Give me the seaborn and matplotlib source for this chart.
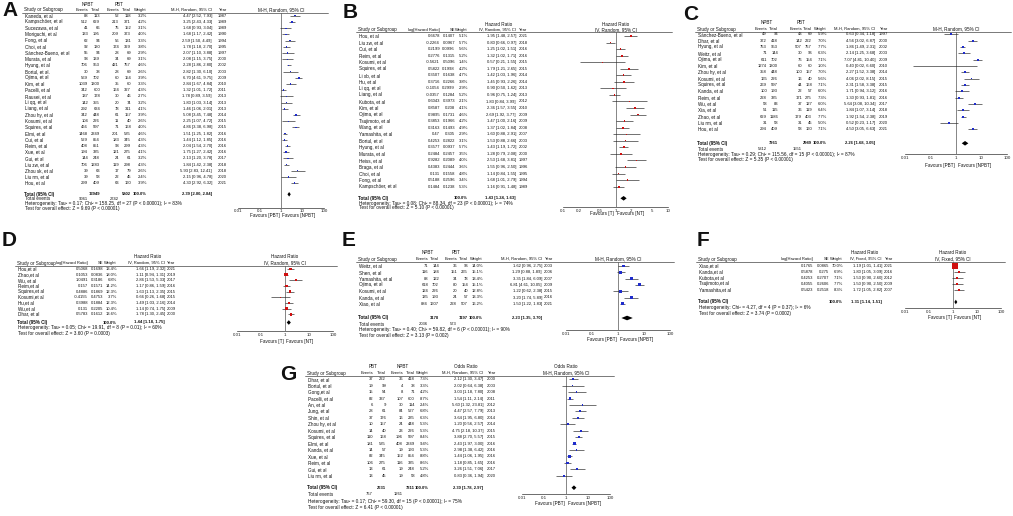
import numpy as np
import matplotlib
matplotlib.use("Agg")
import matplotlib.pyplot as plt
from matplotlib.ticker import NullLocator
import seaborn as sns

W, H = 1013, 516
TXT = "#111111"
FS = 3.0        # numbers in the table
FS_NAME = 3.3   # study names and headers
FS_FOOT = 3.4   # heterogeneity / overall effect lines

# ---------------- A : NPBT vs PBT, M-H random
a_study = ["Kaneda, et al", "Kampschöer, et al", "Sucezawa, et al", "Moriguchi, et al", "Fong, et al",
           "Choi, et al", "Sánchez-Bueno, et al", "Murata, et al", "Hyung, et al", "Bortul, et al.",
           "Ojima, et al", "Kim, et al", "Pacelli, et al", "Rausei, et al", "Li qq, et al", "Liang, et al",
           "Zhou hy, et al", "Kosumi, et al", "Squires, et al", "Elmi, et al", "Cui, et al", "Reim, et al",
           "Xue, et al", "Gui, et al", "Liu zw, et al", "Zhou sk, et al", "Liu rm, et al", "Hou, et al"]
a_year = [1987, 1989, 1989, 1990, 1994, 1995, 1997, 2000, 2002, 2003, 2009, 2010, 2011, 2013, 2013, 2013,
          2014, 2015, 2015, 2016, 2016, 2016, 2016, 2017, 2018, 2018, 2020, 2021]
a_npbt_ev = [88, 512, 41, 133, 62, 92, 55, 93, 706, 30, 569, 1039, 342, 137, 142, 292, 342, 104, 466, 1468,
             529, 408, 194, 144, 706, 39, 39, 299]
a_npbt_tot = [113, 629, 66, 195, 94, 130, 94, 139, 953, 38, 702, 1300, 600, 178, 355, 634, 448, 226, 597,
              2349, 854, 851, 335, 248, 1283, 63, 58, 409]
a_pbt_ev = [52, 213, 75, 209, 56, 174, 28, 34, 421, 28, 60, 35, 164, 30, 20, 78, 61, 11, 71, 201, 183, 93,
            121, 24, 119, 17, 22, 63]
a_pbt_tot = [118, 371, 152, 373, 131, 329, 69, 69, 757, 69, 154, 60, 327, 46, 74, 311, 157, 40, 168, 535,
             345, 299, 275, 61, 298, 79, 45, 160]
a_weight = [3.2, 4.2, 3.1, 4.0, 3.3, 3.8, 2.9, 3.1, 4.6, 2.6, 3.9, 3.3, 4.3, 2.7, 3.2, 4.1, 3.9, 2.6, 4.0,
            4.6, 4.3, 4.3, 4.1, 3.2, 4.3, 2.6, 2.4, 3.9]
a_est = [4.47, 3.25, 1.68, 1.68, 2.59, 1.78, 2.07, 2.08, 2.28, 2.82, 6.70, 2.84, 1.32, 1.78, 1.80, 1.46,
         5.08, 2.25, 4.86, 1.51, 1.44, 2.04, 1.75, 2.13, 1.84, 5.93, 2.15, 4.30]
a_lo = [2.52, 2.43, 0.93, 1.17, 1.50, 1.18, 1.10, 1.15, 1.86, 1.30, 4.61, 1.67, 1.01, 0.89, 1.03, 1.06,
        3.45, 1.07, 3.38, 1.25, 1.12, 1.54, 1.27, 1.20, 1.42, 2.83, 0.96, 2.92]
a_hi = [7.93, 4.33, 3.04, 2.42, 4.49, 2.70, 3.88, 3.75, 2.80, 6.10, 9.75, 4.84, 1.72, 3.59, 3.14, 2.01,
        7.48, 4.72, 6.98, 1.82, 1.85, 2.70, 2.42, 3.78, 2.38, 12.41, 4.78, 6.32]
a_total = [13949, 5802]
a_events = [9061, 2742]
a_pooled = [2.39, 2.00, 2.84]
a_het = "Heterogeneity: Tau² = 0.17; Chi² = 158.25, df = 27 (P < 0.00001); I² = 83%"
a_test = "Test for overall effect: Z = 9.69 (P < 0.00001)"

# ---------------- B : log HR, IV random
b_study = ["Hou, et al", "Liu zw, et al", "Cui, et al", "Reim, et al", "Kosumi, et al", "Squires, et al",
           "Li xb, et al", "Hu, et al", "Li qq, et al", "Liang, et al", "Kubota, et al", "Kim, et al",
           "Ojima, et al", "Tsujimoto, et al", "Wang, et al", "Yamashita, et al", "Bortul, et al",
           "Hyung, et al", "Murata, et al", "Heiss, et al", "Braga, et al", "Choi, et al", "Fong, et al",
           "Kampschöer, et al"]
b_year = [2021, 2018, 2016, 2016, 2015, 2015, 2014, 2014, 2013, 2013, 2012, 2010, 2009, 2009, 2008, 2007,
          2003, 2002, 2000, 1997, 1996, 1995, 1994, 1989]
b_log = [0.6678, -0.2264, 0.2199, 0.2776, -0.5621, 0.5822, 0.3507, 0.3716, -0.1054, -0.0357, 0.6043,
         0.8587, 0.9895, 0.3853, 0.3163, 0.47, 0.4253, 0.3577, 0.2484, 0.9282, 0.4383, 0.131, 0.5188, 0.1484]
b_se = [0.1407, 0.0967, 0.0996, 0.1315, 0.5096, 0.1998, 0.1638, 0.2266, 0.2999, 0.1284, 0.3973, 0.208,
        0.1731, 0.1966, 0.1493, 0.305, 0.2822, 0.0937, 0.2457, 0.2089, 0.2444, 0.1558, 0.2596, 0.1238]
b_weight = [5.1, 5.7, 5.6, 5.2, 1.4, 4.2, 4.7, 3.8, 2.9, 5.2, 2.1, 4.1, 4.6, 4.2, 4.9, 2.9, 3.1, 5.7, 3.5,
            4.0, 3.6, 4.8, 3.4, 5.3]
b_est = [1.95, 0.80, 1.25, 1.32, 0.57, 1.79, 1.42, 1.45, 0.90, 0.96, 1.83, 2.36, 2.69, 1.47, 1.37, 1.60,
         1.53, 1.43, 1.28, 2.53, 1.55, 1.14, 1.68, 1.16]
b_lo = [1.48, 0.66, 1.02, 1.02, 0.21, 1.21, 1.03, 0.93, 0.50, 0.75, 0.84, 1.57, 1.92, 1.00, 1.02, 0.88,
        0.88, 1.19, 0.79, 1.68, 0.96, 0.84, 1.01, 0.91]
b_hi = [2.57, 0.97, 1.51, 1.71, 1.55, 2.65, 1.96, 2.26, 1.62, 1.24, 3.99, 3.55, 3.77, 2.16, 1.84, 2.91,
        2.66, 1.72, 2.08, 3.81, 2.50, 1.55, 2.79, 1.48]
b_pooled = [1.43, 1.24, 1.63]
b_het = "Heterogeneity: Tau² = 0.08; Chi² = 88.34, df = 23 (P < 0.00001); I² = 74%"
b_test = "Test for overall effect: Z = 5.10 (P < 0.00001)"

# ---------------- C : NPBT vs PBT, M-H random
c_study = ["Sánchez-Bueno, et al", "Dhar, et al", "Hyung, et al", "Weitz, et al", "Ojima, et al", "Kim, et al",
           "Zhou hy, et al", "Kosumi, et al", "Squires, et al", "Kanda, et al", "Reim, et al", "Wu, et al",
           "Xia, et al", "Zhao, et al", "Liu rm, et al", "Hou, et al"]
c_year = [1997, 2000, 2002, 2003, 2009, 2010, 2014, 2015, 2015, 2016, 2016, 2017, 2018, 2019, 2020, 2021]
c_npbt_ev = [49, 372, 753, 71, 611, 1274, 358, 165, 269, 100, 228, 58, 51, 629, 31, 294]
c_npbt_tot = [94, 418, 953, 144, 702, 1300, 448, 226, 597, 193, 335, 83, 115, 1186, 58, 409]
c_pbt_ev = [43, 142, 507, 30, 76, 60, 100, 16, 44, 22, 171, 37, 36, 179, 31, 58]
c_pbt_tot = [69, 222, 757, 96, 154, 60, 157, 40, 168, 57, 275, 127, 119, 403, 45, 160]
c_weight = [5.9, 7.0, 7.7, 6.3, 7.1, 1.0, 7.0, 5.6, 7.1, 6.0, 7.3, 6.0, 6.4, 7.7, 5.0, 7.1]
c_est = [0.63, 4.56, 1.86, 2.14, 7.07, 0.40, 2.27, 4.06, 2.31, 1.71, 1.30, 5.64, 1.84, 1.92, 0.52, 4.50]
c_lo = [0.34, 3.02, 1.49, 1.25, 4.81, 0.02, 1.52, 2.02, 1.58, 0.94, 0.93, 3.08, 1.07, 1.54, 0.23, 3.05]
c_hi = [1.18, 6.87, 2.31, 3.68, 10.40, 6.60, 3.38, 8.15, 3.38, 3.12, 1.81, 10.34, 3.14, 2.38, 1.17, 6.63]
c_total = [7261, 2989]
c_events = [5312, 1551]
c_pooled = [2.26, 1.68, 3.05]
c_het = "Heterogeneity: Tau² = 0.29; Chi² = 115.56, df = 15 (P < 0.00001); I² = 87%"
c_test = "Test for overall effect: Z = 5.35 (P < 0.00001)"

# ---------------- D : log HR, IV random
d_study = ["Hou,et al", "Zhao,et al", "Wu, et al", "Reim,et al", "Squires,et al", "Kosumi,et al",
           "Hu,et al", "Wu,et al", "Dhar, et al"]
d_year = [2021, 2019, 2017, 2016, 2015, 2015, 2014, 2009, 2000]
d_log = [0.5068, 0.1053, 1.0491, 0.157, 0.4886, -0.4155, 0.3988, 0.131, 0.5783]
d_se = [0.1698, 0.0836, 0.3186, 0.1571, 0.1869, 0.4753, 0.1884, 0.2205, 0.1612]
d_weight = [13.4, 18.0, 6.8, 14.2, 12.3, 3.7, 12.3, 10.4, 13.6]
d_est = [1.66, 1.11, 2.86, 1.17, 1.63, 0.66, 1.49, 1.14, 1.78]
d_lo = [1.19, 0.94, 1.53, 0.86, 1.13, 0.26, 1.03, 0.74, 1.30]
d_hi = [2.32, 1.31, 5.33, 1.59, 2.35, 1.68, 2.16, 1.75, 2.45]
d_pooled = [1.44, 1.18, 1.75]
d_het = "Heterogeneity: Tau² = 0.05; Chi² = 19.91, df = 8 (P = 0.01); I² = 60%"
d_test = "Test for overall effect: Z = 3.60 (P = 0.0003)"

# ---------------- E : NPBT vs PBT, M-H random
e_study = ["Weitz, et al", "Shen, et al", "Yamashita, et al", "Ojima, et al", "Kosumi, et al",
           "Kanda, et al", "Xiao, et al"]
e_year = [2003, 2006, 2007, 2009, 2015, 2016, 2021]
e_npbt_ev = [71, 116, 88, 618, 124, 135, 884]
e_npbt_tot = [144, 184, 122, 702, 226, 193, 1607]
e_pbt_ev = [36, 151, 34, 80, 20, 24, 228]
e_pbt_tot = [96, 265, 78, 154, 40, 57, 507]
e_weight = [14.0, 15.1, 13.4, 15.1, 12.8, 13.3, 16.2]
e_est = [1.62, 1.29, 3.35, 6.81, 1.22, 3.20, 1.50]
e_lo = [0.96, 0.88, 1.84, 4.61, 0.62, 1.74, 1.22]
e_hi = [2.75, 1.89, 6.09, 10.05, 2.38, 5.89, 1.83]
e_total = [3178, 1197]
e_events = [2036, 573]
e_pooled = [2.23, 1.35, 3.70]
e_het = "Heterogeneity: Tau² = 0.40; Chi² = 59.82, df = 6 (P < 0.00001); I² = 90%"
e_test = "Test for overall effect: Z = 3.13 (P = 0.002)"

# ---------------- F : log HR, IV fixed
f_study = ["Xiao,et al", "Kanda,et al", "Kubota,et al", "Tsujimoto,et al", "Yamashita,et al"]
f_year = [2021, 2016, 2012, 2009, 2007]
f_log = [0.1765, 0.5878, 0.4253, 0.4055, 0.5423]
f_se = [0.0865, 0.275, 0.2707, 0.2606, 0.2518]
f_weight = [70.0, 6.9, 7.1, 7.7, 8.3]
f_est = [1.19, 1.80, 1.53, 1.50, 1.72]
f_lo = [1.01, 1.05, 0.90, 0.90, 1.05]
f_hi = [1.41, 3.09, 2.60, 2.50, 2.82]
f_pooled = [1.31, 1.14, 1.51]
f_het = "Heterogeneity: Chi² = 4.27, df = 4 (P = 0.37); I² = 6%"
f_test = "Test for overall effect: Z = 3.74 (P = 0.0002)"

# ---------------- G : PBT vs NPBT, odds ratio
g_study = ["Dhar, et al", "Bortul, et al", "Gong,et al", "Pacelli, et al", "An, et al", "Jung, et al",
           "Shin, et al", "Zhou hy, et al", "Kosumi, et al", "Squires, et al", "Elmi, et al", "Kanda, et al",
           "Xue, et al", "Reim, et al", "Gui, et al", "Liu rm, et al"]
g_year = [2000, 2003, 2008, 2011, 2012, 2013, 2014, 2014, 2015, 2015, 2016, 2016, 2016, 2016, 2017, 2020]
g_pbt_ev = [37, 19, 15, 82, 6, 28, 37, 10, 14, 110, 181, 14, 82, 106, 13, 13]
g_pbt_tot = [222, 99, 54, 337, 9, 61, 176, 157, 40, 168, 535, 57, 345, 275, 61, 45]
g_npbt_ev = [36, 4, 8, 107, 30, 84, 16, 24, 23, 196, 408, 19, 152, 116, 19, 19]
g_npbt_tot = [418, 38, 71, 600, 114, 527, 235, 448, 226, 597, 2349, 193, 854, 335, 248, 58]
g_weight = [7.3, 3.3, 4.2, 8.7, 2.4, 6.8, 6.3, 5.3, 5.3, 8.4, 9.4, 5.3, 8.8, 8.6, 5.2, 4.8]
g_est = [2.12, 2.02, 3.03, 1.54, 5.60, 4.47, 3.64, 1.20, 4.75, 3.88, 2.43, 2.98, 1.44, 1.18, 3.26, 0.83]
g_lo = [1.30, 0.64, 1.18, 1.11, 1.32, 2.57, 1.95, 0.56, 2.18, 2.70, 1.97, 1.38, 1.06, 0.85, 1.51, 0.36]
g_hi = [3.47, 6.38, 7.80, 2.14, 23.81, 7.79, 6.80, 2.57, 10.37, 5.57, 3.00, 6.42, 1.95, 1.65, 7.06, 1.94]
g_total = [2631, 7311]
g_events = [767, 1261]
g_pooled = [2.30, 1.78, 2.97]
g_het = "Heterogeneity: Tau² = 0.17; Chi² = 59.30, df = 15 (P < 0.00001); I² = 75%"
g_test = "Test for overall effect: Z = 6.41 (P < 0.00001)"

wide_ticks = [0.01, 0.1, 1, 10, 100]
wide_labels = ["0.01", "0.1", "1", "10", "100"]
narrow_ticks = [0.1, 0.2, 0.5, 1, 2, 5, 10]
narrow_labels = ["0.1", "0.2", "0.5", "1", "2", "5", "10"]

BLUE = "#1f2ccc"
RED = "#d01010"


def t(ov, x, y, s, ha="left", bold=False, size=FS):
    ov.text(x, y, s, ha=ha, va="center", fontsize=size, color=TXT,
            fontweight="bold" if bold else "normal")


def ci_str(e, l, h):
    return f"{e:.2f} [{l:.2f}, {h:.2f}]"


def forest(fig, ov, L, ys, est, lo, hi, wts, color, pooled, ytot, favours, h1=None, h2=None):
    x0, x1, tmin, tmax = L["plot"]
    ax = fig.add_axes([x0 / W, 1 - L["y_axis"] / H, (x1 - x0) / W, (L["y_axis"] - L["y_rule"]) / H])
    ax.set_xscale("log")
    ax.set_xlim(tmin, tmax)
    ax.set_ylim(L["y_axis"], L["y_rule"])
    ax.patch.set_alpha(0)
    for s in ["top", "left", "right"]:
        ax.spines[s].set_visible(False)
    ax.spines["bottom"].set_linewidth(0.5)
    ax.spines["bottom"].set_color("#333333")
    ax.axvline(1, color="#555555", lw=0.5, zorder=1)
    ax.hlines(ys, lo, hi, color="#222222", lw=0.45, zorder=2)
    sizes = (0.75 * np.sqrt(np.array(wts)) / 1.389) ** 2
    sns.scatterplot(x=est, y=ys, s=sizes, marker="s", color=color, edgecolor="none",
                    linewidth=0, ax=ax, legend=False, zorder=3)
    e, l, h = pooled
    ax.fill([l, e, h, e], [ytot, ytot - 2.3, ytot, ytot + 2.3], color="black", lw=0, zorder=3)
    ax.set_xticks(L["ticks"])
    ax.set_xticklabels(L["tick_labels"])
    ax.xaxis.set_minor_locator(NullLocator())
    ax.tick_params(axis="x", length=1.6, width=0.4, direction="inout", labelsize=3.2, pad=0.6,
                   colors="#222222")
    ax.set_yticks([])
    ax.set_xlabel("")
    ax.set_ylabel("")
    xc = x0 + (x1 - x0) * (np.log10(1) - np.log10(tmin)) / (np.log10(tmax) - np.log10(tmin))
    t(ov, xc - 1.5, L["y_fav"], favours[0], ha="right", size=FS_NAME)
    t(ov, xc + 1.5, L["y_fav"], favours[1], ha="left", size=FS_NAME)
    if h1:
        t(ov, xc, L["y_grp"], h1, ha="center", size=FS_NAME)
    t(ov, xc, L["y_hdr"], h2, ha="center", size=FS_NAME)


def rows_y(L, n):
    return [L["y0"] + i * L["step"] for i in range(n)]


def events_panel(fig, ov, L, study, year, ev1, n1, ev2, n2, wts, est, lo, hi, total, events, pooled,
                 het, test, g1, g2, color, favours, measure=None):
    c = L["cols"]
    lx = L["left"]
    t(ov, L["letter"][0], L["letter"][1], L["name"], bold=True, size=15)
    t(ov, (c[0] - 12 + c[1]) / 2, L["y_grp"], g1, ha="center", size=FS_NAME)
    t(ov, (c[2] - 12 + c[3]) / 2, L["y_grp"], g2, ha="center", size=FS_NAME)
    if measure:
        t(ov, c[5] - 17, L["y_grp"], measure, ha="center", size=FS_NAME)
    t(ov, lx, L["y_hdr"], "Study or Subgroup", size=FS_NAME)
    for x, s in zip(c, ["Events", "Total", "Events", "Total", "Weight", "M-H, Random, 95% CI", "Year"]):
        t(ov, x, L["y_hdr"], s, ha="right")
    ov.plot([lx - 2, L["plot"][1] + 4], [L["y_rule"], L["y_rule"]], color="#444444", lw=0.5)
    ys = rows_y(L, len(study))
    for i, y in enumerate(ys):
        t(ov, lx + 1, y, study[i], size=FS_NAME)
        t(ov, c[0], y, str(ev1[i]), ha="right")
        t(ov, c[1], y, str(n1[i]), ha="right")
        t(ov, c[2], y, str(ev2[i]), ha="right")
        t(ov, c[3], y, str(n2[i]), ha="right")
        t(ov, c[4], y, f"{wts[i]:.1f}%", ha="right")
        t(ov, c[5], y, ci_str(est[i], lo[i], hi[i]), ha="right")
        t(ov, c[6], y, str(year[i]), ha="right")
    yt, yev, yh, yz = L["foot"]
    t(ov, lx, yt, "Total (95% CI)", bold=True, size=FS_NAME)
    t(ov, c[1], yt, str(total[0]), ha="right", bold=True)
    t(ov, c[3], yt, str(total[1]), ha="right", bold=True)
    t(ov, c[4], yt, "100.0%", ha="right", bold=True)
    t(ov, c[5], yt, ci_str(*pooled), ha="right", bold=True)
    t(ov, lx + 1, yev, "Total events", size=FS_NAME)
    t(ov, c[0], yev, str(events[0]), ha="right")
    t(ov, c[2], yev, str(events[1]), ha="right")
    t(ov, lx + 1, yh, het, size=FS_FOOT)
    t(ov, lx + 1, yz, test, size=FS_FOOT)
    forest(fig, ov, L, ys, est, lo, hi, wts, color, pooled, yt, favours,
           h1=measure, h2="M-H, Random, 95% CI")


def iv_panel(fig, ov, L, study, year, logv, se, wts, est, lo, hi, pooled, het, test, color, favours,
             method):
    c = L["cols"]
    lx = L["left"]
    t(ov, L["letter"][0], L["letter"][1], L["name"], bold=True, size=15)
    t(ov, c[3] - 17, L["y_grp"], "Hazard Ratio", ha="center", size=FS_NAME)
    t(ov, lx, L["y_hdr"], "Study or Subgroup", size=FS_NAME)
    for x, s in zip(c, ["log[Hazard Ratio]", "SE", "Weight", method, "Year"]):
        t(ov, x, L["y_hdr"], s, ha="right")
    ov.plot([lx - 2, L["plot"][1] + 4], [L["y_rule"], L["y_rule"]], color="#444444", lw=0.5)
    ys = rows_y(L, len(study))
    for i, y in enumerate(ys):
        t(ov, lx + 1, y, study[i], size=FS_NAME)
        t(ov, c[0], y, f"{logv[i]:g}", ha="right")
        t(ov, c[1], y, f"{se[i]:g}", ha="right")
        t(ov, c[2], y, f"{wts[i]:.1f}%", ha="right")
        t(ov, c[3], y, ci_str(est[i], lo[i], hi[i]), ha="right")
        t(ov, c[4], y, str(year[i]), ha="right")
    yt, yh, yz = L["foot"]
    t(ov, lx, yt, "Total (95% CI)", bold=True, size=FS_NAME)
    t(ov, c[2], yt, "100.0%", ha="right", bold=True)
    t(ov, c[3], yt, ci_str(*pooled), ha="right", bold=True)
    t(ov, lx + 1, yh, het, size=FS_FOOT)
    t(ov, lx + 1, yz, test, size=FS_FOOT)
    forest(fig, ov, L, ys, est, lo, hi, wts, color, pooled, yt, favours,
           h1="Hazard Ratio", h2=method)


sns.set_theme(style="white")
plt.rcParams["font.family"] = ["Liberation Sans", "DejaVu Sans"]

fig = plt.figure(figsize=(W / 100, H / 100), dpi=100)
ov = fig.add_axes([0, 0, 1, 1])
ov.set_xlim(0, W)
ov.set_ylim(H, 0)
ov.axis("off")

LA = dict(name="A", letter=(2, 10), left=24, y_grp=4, y_hdr=10, y_rule=12.7, y0=15.8, step=6.2,
          cols=[88, 100, 119, 131, 147, 212, 227], foot=(194.3, 199.0, 203.7, 208.4),
          plot=(238, 324, 0.01, 100), ticks=wide_ticks, tick_labels=wide_labels, y_axis=207.5, y_fav=216)
events_panel(fig, ov, LA, a_study, a_year, a_npbt_ev, a_npbt_tot, a_pbt_ev, a_pbt_tot, a_weight,
             a_est, a_lo, a_hi, a_total, a_events, a_pooled, a_het, a_test, "NPBT", "PBT", BLUE,
             ["Favours [PBT]", "Favours [NPBT]"])

LB = dict(name="B", letter=(343, 12), left=358, y_grp=25, y_hdr=30, y_rule=32.3, y0=36, step=6.55,
          cols=[440, 455, 468, 516, 527.5], foot=(198.3, 203.3, 208.0),
          plot=(563, 668, 0.1, 10), ticks=narrow_ticks, tick_labels=narrow_labels, y_axis=206.7, y_fav=214)
iv_panel(fig, ov, LB, b_study, b_year, b_log, b_se, b_weight, b_est, b_lo, b_hi, b_pooled, b_het, b_test,
         RED, ["Favours [T]", "Favours [NT]"], "IV, Random, 95% CI")

LC = dict(name="C", letter=(683, 14), left=697, y_grp=23, y_hdr=29, y_rule=31.5, y0=34.3, step=6.33,
          cols=[767, 778, 802, 812, 827, 875, 888], foot=(143.3, 149.3, 154.3, 159.3),
          plot=(905, 1007, 0.01, 100), ticks=wide_ticks, tick_labels=wide_labels, y_axis=154.3, y_fav=165)
events_panel(fig, ov, LC, c_study, c_year, c_npbt_ev, c_npbt_tot, c_pbt_ev, c_pbt_tot, c_weight,
             c_est, c_lo, c_hi, c_total, c_events, c_pooled, c_het, c_test, "NPBT", "PBT", BLUE,
             ["Favours [PBT]", "Favours [NPBT]"])

LD = dict(name="D", letter=(2, 241), left=17, y_grp=257, y_hdr=263, y_rule=265.5, y0=269, step=5.65,
          cols=[88, 103, 117, 165, 175.5], foot=(322.5, 328, 333.5),
          plot=(237, 333, 0.01, 100), ticks=wide_ticks, tick_labels=wide_labels, y_axis=331, y_fav=341)
iv_panel(fig, ov, LD, d_study, d_year, d_log, d_se, d_weight, d_est, d_lo, d_hi, d_pooled, d_het, d_test,
         RED, ["Favours [T]", "Favours [NT]"], "IV, Random, 95% CI")

LE = dict(name="E", letter=(342, 241), left=358, y_grp=253, y_hdr=259, y_rule=261.5, y0=266, step=6.3,
          cols=[428, 439, 457, 468, 483, 542, 553], foot=(318, 324, 330, 336),
          plot=(566, 670, 0.01, 100), ticks=wide_ticks, tick_labels=wide_labels, y_axis=330, y_fav=340)
events_panel(fig, ov, LE, e_study, e_year, e_npbt_ev, e_npbt_tot, e_pbt_ev, e_pbt_tot, e_weight,
             e_est, e_lo, e_hi, e_total, e_events, e_pooled, e_het, e_test, "NPBT", "PBT", BLUE,
             ["Favours [PBT]", "Favours [NPBT]"])

LF = dict(name="F", letter=(697, 240), left=698, y_grp=253, y_hdr=259, y_rule=262, y0=266, step=6.0,
          cols=[813, 829, 843, 882, 893], foot=(302, 307.5, 313),
          plot=(905, 1001, 0.01, 100), ticks=wide_ticks, tick_labels=wide_labels, y_axis=308, y_fav=318)
iv_panel(fig, ov, LF, f_study, f_year, f_log, f_se, f_weight, f_est, f_lo, f_hi, f_pooled, f_het, f_test,
         RED, ["Favours [T]", "Favours [NT]"], "IV, Fixed, 95% CI")

LG = dict(name="G", letter=(280, 375), left=307, y_grp=367, y_hdr=373, y_rule=375.5, y0=379.3, step=6.43,
          cols=[373, 386, 403, 415, 429, 483, 496], foot=(487.7, 494.3, 501.0, 507.7),
          plot=(522, 610, 0.01, 100), ticks=wide_ticks, tick_labels=wide_labels, y_axis=494, y_fav=504)
events_panel(fig, ov, LG, g_study, g_year, g_pbt_ev, g_pbt_tot, g_npbt_ev, g_npbt_tot, g_weight,
             g_est, g_lo, g_hi, g_total, g_events, g_pooled, g_het, g_test, "PBT", "NPBT", BLUE,
             ["Favours [PBT]", "Favours [NPBT]"], measure="Odds Ratio")

fig.savefig("out.png", dpi=100, facecolor="white")
